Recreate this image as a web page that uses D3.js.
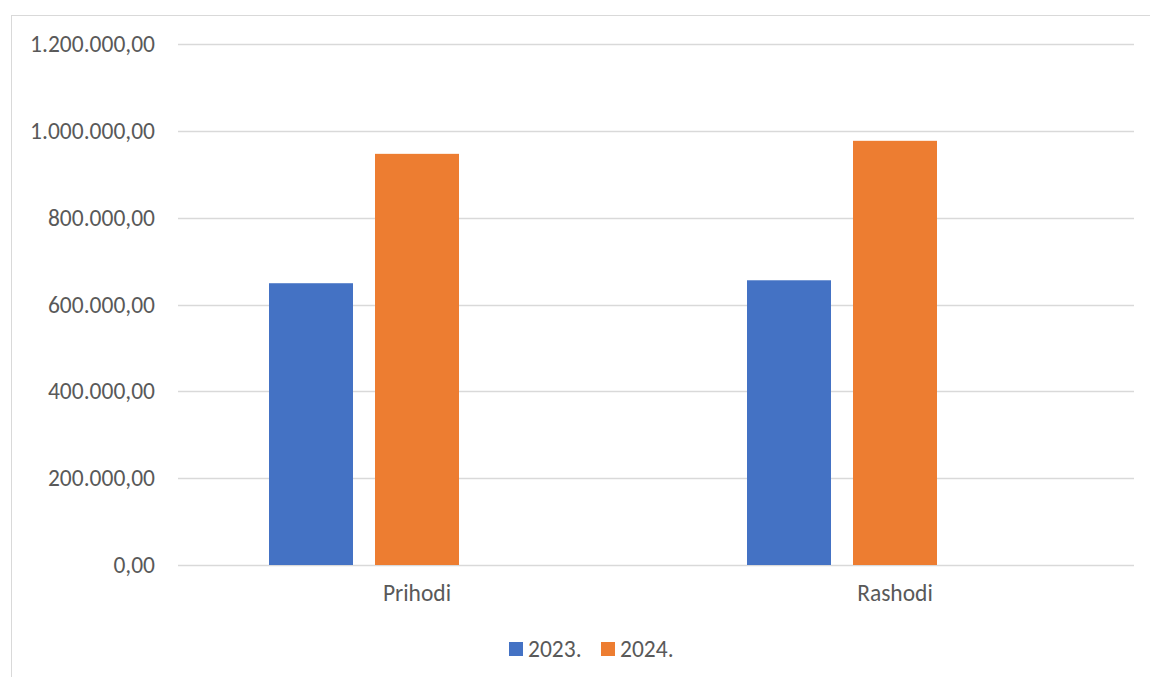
<!DOCTYPE html>
<html>
<head>
<meta charset="utf-8">
<script src="https://cdn.jsdelivr.net/npm/d3@7"></script>
<style>
  html, body { margin: 0; padding: 0; background: #fff; }
  svg { display: block; }
</style>
</head>
<body>
<svg id="chart"></svg>
<script>
// categories and series
const categories = ["Prihodi", "Rashodi"];
const seriesNames = ["2023.", "2024."];
// third slot is an empty series in the original workbook
const seriesSlots = ["2023.", "2024.", ""];
const values2023 = [649000, 655800];
const values2024 = [947000, 977000];
const yTicks = [0, 200000, 400000, 600000, 800000, 1000000, 1200000];

const colors = { "2023.": "#4472C4", "2024.": "#ED7D31" };

const width = 1150;
const height = 677;
const margin = { top: 44, right: 16, bottom: 112, left: 178 };
const boundsWidth = width - margin.left - margin.right;
const boundsHeight = height - margin.top - margin.bottom;

const fontFamily = "Carlito, Calibri, Lato, sans-serif";
const fontSize = "23.5px";
const textColor = "#595959";

const svg = d3.select("#chart")
    .attr("width", width)
    .attr("height", height);

// chart border (runs off the right and bottom edge)
svg.append("rect")
    .attr("x", 11.5)
    .attr("y", 15.5)
    .attr("width", width + 20)
    .attr("height", height + 20)
    .style("fill", "none")
    .style("stroke", "#d9d9d9");

const scaleY = d3.scaleLinear()
    .domain([0, 1200000])
    .range([boundsHeight, 0]);

const scaleX = d3.scaleBand()
    .domain(categories)
    .range([0, boundsWidth])
    .padding(0);

// inner band: bar width 84, gap 22 inside a 478 step
const innerStep = 106;
const innerPadIn = 22 / innerStep;
const innerPadOut = (scaleX.bandwidth() / innerStep - seriesSlots.length + innerPadIn) / 2;
const scaleInner = d3.scaleBand()
    .domain(seriesSlots)
    .range([0, scaleX.bandwidth()])
    .paddingInner(innerPadIn)
    .paddingOuter(innerPadOut);

const g = svg.append("g")
    .attr("transform", `translate(${margin.left}, ${margin.top})`);

// grid lines
g.append("g")
    .selectAll("line")
    .data(yTicks)
    .enter()
    .append("line")
    .attr("x1", 0)
    .attr("x2", boundsWidth)
    .attr("y1", d => Math.round(scaleY(d)) + 0.5)
    .attr("y2", d => Math.round(scaleY(d)) + 0.5)
    .style("stroke", "#d9d9d9")
    .style("stroke-width", 1.3);

// y labels
const fmt = d3.formatLocale({ decimal: ",", thousands: ".", grouping: [3], currency: ["", ""] }).format(",.2f");
const yAxis = d3.axisLeft(scaleY).tickValues(yTicks).tickSize(0).tickPadding(23).tickFormat(fmt);
const yG = g.append("g").call(yAxis);
yG.select(".domain").remove();
yG.selectAll("text")
    .style("font-family", fontFamily)
    .style("font-size", fontSize)
    .style("fill", textColor);

// bars
const rows = categories.map((c, i) => ({ cat: c, vals: { "2023.": values2023[i], "2024.": values2024[i] } }));
rows.forEach(r => {
    seriesNames.forEach(s => {
        g.append("rect")
            .attr("x", scaleX(r.cat) + scaleInner(s))
            .attr("y", scaleY(r.vals[s]))
            .attr("width", scaleInner.bandwidth())
            .attr("height", boundsHeight - scaleY(r.vals[s]))
            .style("fill", colors[s]);
    });
});

// x labels
const xAxis = d3.axisBottom(scaleX).tickSize(0).tickPadding(19);
const xG = g.append("g")
    .attr("transform", `translate(0, ${boundsHeight})`)
    .call(xAxis);
xG.select(".domain").remove();
xG.selectAll("text")
    .style("font-family", fontFamily)
    .style("font-size", fontSize)
    .style("fill", textColor);

// legend
const legendX = [509, 601];
const legend = svg.append("g");
seriesNames.forEach((s, i) => {
    legend.append("rect")
        .attr("x", legendX[i])
        .attr("y", 642)
        .attr("width", 14)
        .attr("height", 14)
        .style("fill", colors[s]);
    legend.append("text")
        .attr("x", legendX[i] + 19)
        .attr("y", 657)
        .text(s)
        .style("font-family", fontFamily)
        .style("font-size", fontSize)
        .style("fill", textColor);
});
</script>
</body>
</html>
